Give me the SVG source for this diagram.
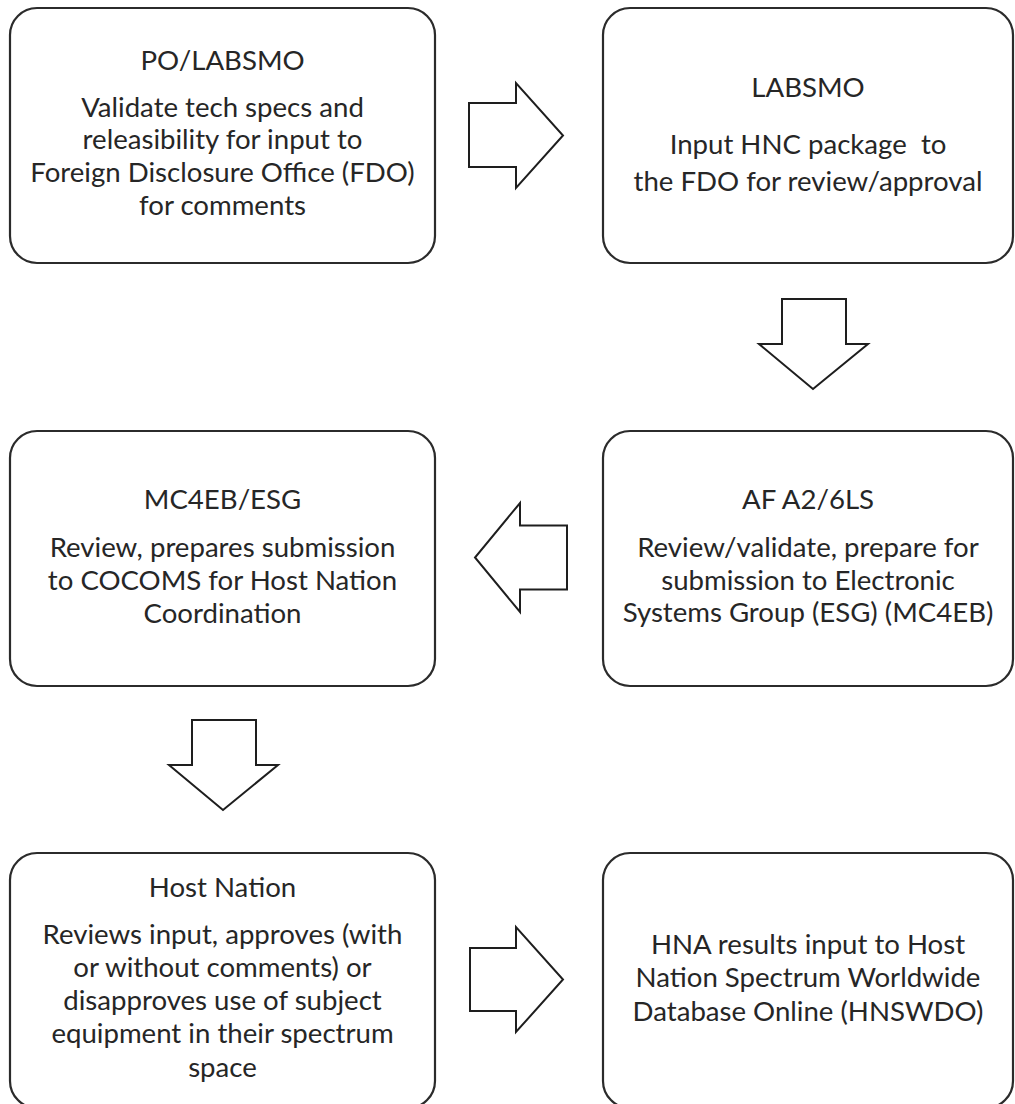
<svg xmlns="http://www.w3.org/2000/svg" width="1015" height="1104" viewBox="0 0 1015 1104">
<style>
.box{fill:#fff;stroke:#2b2b2b;stroke-width:2.2}
.arr{fill:#fff;stroke:#1e1e1e;stroke-width:2;stroke-linejoin:miter}
text{font-family:Lato,"Open Sans",sans-serif;font-size:27.6px;fill:#262626;text-anchor:middle}
</style>
<rect width="1015" height="1104" fill="#fff"/>
<g id="connectors">
<polygon class="arr" points="469,103 516,103 516,83 563,135.5 516,188 516,167 469,167"/>
<polygon class="arr" points="782,299 846,299 846,344 868,344 813,389 759,344 782,344"/>
<polygon class="arr" points="567,525.5 520,525.5 520,503 475,557.5 520,612 520,589.5 567,589.5"/>
<polygon class="arr" points="192,720 256,720 256,765 278,765 223,810 169,765 192,765"/>
<polygon class="arr" points="470,948 516,948 516,927 563,979.5 516,1032 516,1011 470,1011"/>
</g>
<g id="node1">
<rect class="box" x="10" y="8" width="425" height="255" rx="27"/>
<text x="222.5" y="70">PO/LABSMO</text>
<text x="222.5" y="117">Validate tech specs and</text>
<text x="222.5" y="149">releasibility for input to</text>
<text x="222.5" y="182">Foreign Disclosure Office (FDO)</text>
<text x="222.5" y="215">for comments</text>
</g>
<g id="node2">
<rect class="box" x="603" y="8" width="410" height="255" rx="27"/>
<text x="808" y="97">LABSMO</text>
<text x="808" y="154" xml:space="preserve">Input HNC package  to</text>
<text x="808" y="191">the FDO for review/approval</text>
</g>
<g id="node3">
<rect class="box" x="603" y="431" width="410" height="255" rx="27"/>
<text x="808" y="509">AF A2/6LS</text>
<text x="808" y="557">Review/validate, prepare for</text>
<text x="808" y="590">submission to Electronic</text>
<text x="808" y="622">Systems Group (ESG) (MC4EB)</text>
</g>
<g id="node4">
<rect class="box" x="10" y="431" width="425" height="255" rx="27"/>
<text x="222.5" y="509">MC4EB/ESG</text>
<text x="222.5" y="557">Review, prepares submission</text>
<text x="222.5" y="590">to COCOMS for Host Nation</text>
<text x="222.5" y="623">Coordination</text>
</g>
<g id="node5">
<rect class="box" x="10" y="853" width="425" height="255" rx="27"/>
<text x="222.5" y="897">Host Nation</text>
<text x="222.5" y="944">Reviews input, approves (with</text>
<text x="222.5" y="977">or without comments) or</text>
<text x="222.5" y="1010">disapproves use of subject</text>
<text x="222.5" y="1043">equipment in their spectrum</text>
<text x="222.5" y="1077">space</text>
</g>
<g id="node6">
<rect class="box" x="603" y="853" width="410" height="255" rx="27"/>
<text x="808" y="954">HNA results input to Host</text>
<text x="808" y="987">Nation Spectrum Worldwide</text>
<text x="808" y="1021">Database Online (HNSWDO)</text>
</g>
</svg>
